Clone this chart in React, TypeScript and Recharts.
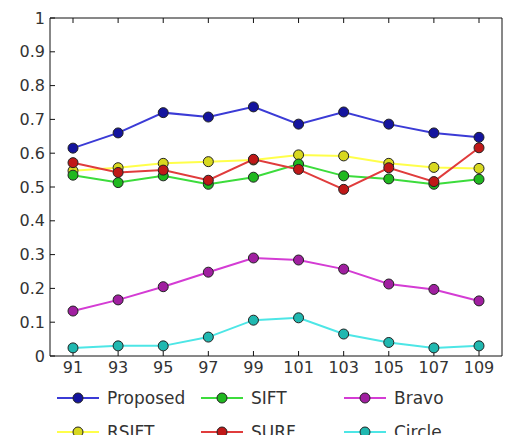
import React from "react";
import { LineChart, Line, XAxis, YAxis, Legend } from "recharts";

const categories = ["91", "93", "95", "97", "99", "101", "103", "105", "107", "109"];
const proposed = [0.615, 0.66, 0.72, 0.707, 0.737, 0.686, 0.722, 0.686, 0.66, 0.647];
const sift = [0.535, 0.513, 0.533, 0.508, 0.529, 0.568, 0.533, 0.524, 0.508, 0.523];
const bravo = [0.133, 0.166, 0.205, 0.248, 0.29, 0.284, 0.257, 0.213, 0.197, 0.163];
const rsift = [0.548, 0.557, 0.57, 0.575, 0.58, 0.595, 0.592, 0.57, 0.558, 0.555];
const surf = [0.572, 0.543, 0.55, 0.52, 0.582, 0.552, 0.493, 0.557, 0.516, 0.616];
const circle = [0.024, 0.03, 0.03, 0.056, 0.106, 0.113, 0.065, 0.04, 0.024, 0.03];
const yTicks = [0, 0.1, 0.2, 0.3, 0.4, 0.5, 0.6, 0.7, 0.8, 0.9, 1];

const series = [
  { key: "proposed", name: "Proposed", values: proposed, line: "#3b3bd6", fill: "#14149e" },
  { key: "sift", name: "SIFT", values: sift, line: "#3cdc3c", fill: "#1fb81f" },
  { key: "bravo", name: "Bravo", values: bravo, line: "#d43cd4", fill: "#a01fa0" },
  { key: "rsift", name: "RSIFT", values: rsift, line: "#ffff4a", fill: "#d8d820" },
  { key: "surf", name: "SURF", values: surf, line: "#e03c3c", fill: "#c01818" },
  { key: "circle", name: "Circle", values: circle, line: "#4de6e6", fill: "#20b8b0" },
];

const drawOrder = ["bravo", "circle", "rsift", "sift", "surf", "proposed"];

const data = categories.map((c, i) => {
  const row: Record<string, number | string> = { cat: c };
  series.forEach((s) => (row[s.key] = s.values[i]));
  return row;
});

const FONT = "'DejaVu Sans', sans-serif";

const legendLayout = [
  { key: "proposed", x: 57, y: 13 },
  { key: "sift", x: 201, y: 13 },
  { key: "bravo", x: 344, y: 13 },
  { key: "rsift", x: 57, y: 47 },
  { key: "surf", x: 201, y: 47 },
  { key: "circle", x: 344, y: 47 },
];

const LegendContent = () => (
  <div style={{ position: "relative", width: 508, height: 50 }}>
    {legendLayout.map((l) => {
      const s = series.find((q) => q.key === l.key)!;
      return (
        <div
          key={l.key}
          style={{
            position: "absolute",
            left: l.x,
            top: l.y - 10,
            height: 20,
            display: "flex",
            alignItems: "center",
            fontFamily: FONT,
            fontSize: 17,
            color: "#333",
            whiteSpace: "nowrap",
          }}
        >
          <svg width={42} height={14} style={{ marginRight: 8 }}>
            <line x1={0} y1={7} x2={42} y2={7} stroke={s.line} strokeWidth={2} />
            <circle cx={21} cy={7} r={5} fill={s.fill} stroke="#222" strokeWidth={1} />
          </svg>
          <span>{s.name}</span>
        </div>
      );
    })}
  </div>
);

const EmptyTick = () => <g />;

export default function App() {
  return (
    <div style={{ position: "absolute", left: 0, top: 0, background: "#fff" }}>
      <LineChart
        width={508}
        height={435}
        data={data}
        margin={{ top: 17, right: 5, bottom: 0, left: 0 }}
      >
        <XAxis
          dataKey="cat"
          xAxisId="bottom"
          orientation="bottom"
          height={29}
          interval={0}
          padding={{ left: 23, right: 23 }}
          stroke="#111"
          tickSize={-5}
          tickMargin={11}
          tick={{ fontFamily: FONT, fontSize: 16, fill: "#333" }}
        />
        <XAxis
          dataKey="cat"
          xAxisId="top"
          orientation="top"
          height={1}
          interval={0}
          padding={{ left: 23, right: 23 }}
          stroke="#111"
          tickSize={-5}
          tick={EmptyTick}
        />
        <YAxis
          yAxisId="left"
          domain={[0, 1]}
          ticks={yTicks}
          width={50}
          stroke="#111"
          tickSize={-5}
          tickMargin={10}
          interval={0}
          tick={{ fontFamily: FONT, fontSize: 16, fill: "#333" }}
        />
        <YAxis
          yAxisId="right"
          orientation="right"
          domain={[0, 1]}
          ticks={yTicks}
          width={1}
          stroke="#111"
          tickSize={-5}
          interval={0}
          tick={EmptyTick}
        />
        <Legend
          verticalAlign="bottom"
          height={50}
          content={LegendContent}
          wrapperStyle={{ left: 0, top: 385, width: 508, height: 50 }}
        />
        {drawOrder.map((k) => {
          const s = series.find((q) => q.key === k)!;
          return (
            <Line
              key={k}
              xAxisId="bottom"
              yAxisId="left"
              dataKey={k}
              name={s.name}
              stroke={s.line}
              strokeWidth={2}
              isAnimationActive={false}
              dot={{ r: 5, fill: s.fill, stroke: "#222", strokeWidth: 1, fillOpacity: 1 }}
              activeDot={false}
            />
          );
        })}
      </LineChart>
    </div>
  );
}
